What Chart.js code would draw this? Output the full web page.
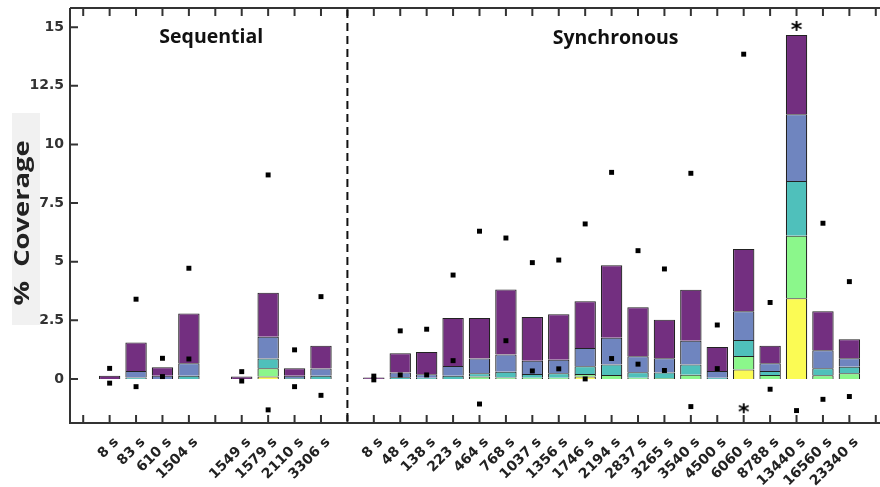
<!DOCTYPE html>
<html>
<head>
<meta charset="utf-8">
<script src="https://cdn.jsdelivr.net/npm/chart.js@4.4.1/dist/chart.umd.min.js"></script>
<style>
  html, body { margin: 0; padding: 0; background: #fff; overflow: hidden; }
  #wrap { width: 893px; height: 487px; }
</style>
</head>
<body>
<div id="wrap"><canvas id="cov" width="893" height="487"></canvas></div>
<script>
'use strict';

// slots: gap | sequential A | gap | sequential B | gap (divider) | synchronous | gap
const tickLabels = ['', '8 s', '83 s', '610 s', '1504 s', '', '1549 s', '1579 s', '2110 s', '3306 s', '',
  '8 s', '48 s', '138 s', '223 s', '464 s', '768 s', '1037 s', '1356 s', '1746 s', '2194 s',
  '2837 s', '3265 s', '3540 s', '4500 s', '6060 s', '8788 s', '13440 s', '16560 s', '23340 s', ''];

// stacked segments, bottom to top
const yellowVals = [null, 0, 0, 0, 0, null, 0, 0.10, 0, 0, null,
  0, 0, 0, 0, 0, 0, 0, 0, 0.10, 0, 0, 0, 0, 0, 0.40, 0, 3.44, 0, 0, null];
const greenVals = [null, 0, 0, 0, 0, null, 0, 0.36, 0, 0, null,
  0, 0, 0, 0, 0.10, 0.06, 0.05, 0.05, 0.11, 0.17, 0.05, 0.04, 0.18, 0, 0.58, 0.17, 2.67, 0.16, 0.24, null];
const tealVals = [null, 0, 0.06, 0, 0.14, null, 0, 0.41, 0.04, 0.14, null,
  0, 0.07, 0.05, 0.14, 0.14, 0.25, 0.16, 0.19, 0.33, 0.44, 0.23, 0.23, 0.43, 0.05, 0.68, 0.17, 2.33, 0.29, 0.28, null];
const blueVals = [null, 0, 0.28, 0.14, 0.53, null, 0, 0.93, 0.10, 0.30, null,
  0, 0.20, 0.15, 0.41, 0.63, 0.73, 0.56, 0.58, 0.78, 1.15, 0.69, 0.61, 1.02, 0.29, 1.23, 0.33, 2.85, 0.77, 0.36, null];
const purpleVals = [null, 0.14, 1.21, 0.36, 2.12, null, 0.10, 1.87, 0.32, 0.97, null,
  0.06, 0.82, 0.95, 2.05, 1.73, 2.77, 1.87, 1.94, 1.99, 3.09, 2.09, 1.64, 2.17, 1.02, 2.65, 0.74, 3.38, 1.67, 0.81, null];

// square markers above / below, and the two asterisks
const highMarks = [null, 0.45, 3.40, 0.88, 4.72, null, 0.31, 8.70, 1.24, 3.51, null,
  0.12, 2.05, 2.12, 4.43, 6.30, 6.01, 4.96, 5.07, 6.61, 8.81, 5.47, 4.69, 8.77, 2.30, 13.85, 3.26, null, 6.64, 4.15, null];
const lowMarks = [null, -0.18, -0.33, 0.10, 0.85, null, -0.09, -1.32, -0.33, -0.70, null,
  -0.04, 0.17, 0.17, 0.78, -1.07, 1.63, 0.34, 0.43, 0.00, 0.87, 0.63, 0.36, -1.18, 0.44, null, -0.44, -1.35, -0.87, -0.75, null];
const starMarks = [null, null, null, null, null, null, null, null, null, null, null,
  null, null, null, null, null, null, null, null, null, null, null, null, null, null, -1.21, null, 15.1, null, null, null];

const yTicks = [0, 2.5, 5, 7.5, 10, 12.5, 15];

const axisColor = '#333';
const tickFont = { family: 'DejaVu Sans', size: 14, weight: 'bold' };

// asterisk glyph as point image
function starImage() {
  const c = document.createElement('canvas');
  c.width = 16; c.height = 16;
  const g = c.getContext('2d');
  g.font = 'bold 22px "DejaVu Sans"';
  g.textAlign = 'center';
  g.textBaseline = 'alphabetic';
  const m = g.measureText('*');
  const h = m.actualBoundingBoxAscent - m.actualBoundingBoxDescent;
  g.fillStyle = '#000';
  g.fillText('*', 8, 8 + h / 2 + 1);
  return c;
}

const framePlugin = {
  id: 'frame',
  afterDatasetsDraw(chart) {
    const { ctx, chartArea: a, scales: { x, y } } = chart;
    ctx.save();
    ctx.strokeStyle = axisColor;
    ctx.lineWidth = 2;
    ctx.beginPath();
    ctx.moveTo(a.left, a.top); ctx.lineTo(a.right, a.top);
    ctx.moveTo(a.left, a.top); ctx.lineTo(a.left, a.bottom); ctx.lineTo(a.right, a.bottom);
    tickLabels.forEach((_, i) => {
      const px = x.getPixelForValue(i);
      ctx.moveTo(px, a.bottom); ctx.lineTo(px, a.bottom - 8);
      ctx.moveTo(px, a.top); ctx.lineTo(px, a.top + 8);
    });
    yTicks.forEach(v => {
      const py = y.getPixelForValue(v);
      ctx.moveTo(a.left, py); ctx.lineTo(a.left + 8, py);
    });
    ctx.stroke();

    // divider between sequential and synchronous
    const dx = x.getPixelForValue(10);
    ctx.strokeStyle = '#111';
    ctx.setLineDash([8, 5]);
    ctx.beginPath();
    ctx.moveTo(dx, a.top + 2); ctx.lineTo(dx, a.bottom);
    ctx.stroke();
    ctx.setLineDash([]);

    // group titles
    ctx.fillStyle = '#111';
    ctx.font = 'bold 19.5px "Open Sans"';
    ctx.textAlign = 'center';
    ctx.textBaseline = 'middle';
    const seqX = (x.getPixelForValue(1) + x.getPixelForValue(9)) / 2 - 4;
    const syncX = (x.getPixelForValue(11) + x.getPixelForValue(29)) / 2 + 4;
    ctx.fillText('Sequential', seqX, a.top + 29);
    ctx.fillText('Synchronous', syncX, a.top + 30);
    ctx.restore();
  },
  afterDraw(chart) {
    const { ctx } = chart;
    ctx.save();
    ctx.fillStyle = '#f1f1f1';
    ctx.fillRect(12, 113, 28, 212);
    ctx.translate(29, 223);
    ctx.rotate(-Math.PI / 2);
    ctx.scale(1.3, 1);
    ctx.fillStyle = '#222';
    ctx.font = 'bold 21px "Open Sans"';
    ctx.textAlign = 'center';
    ctx.textBaseline = 'alphabetic';
    ctx.fillText('%  Coverage', 0, 0);
    ctx.restore();
  }
};

function barSet(label, data, color) {
  return {
    type: 'bar', label, data,
    backgroundColor: color,
    borderColor: '#222',
    borderWidth: { top: 1, left: 1.2, right: 1.2, bottom: 0 },
    borderSkipped: false,
    stack: 'cov',
    order: 1,
    categoryPercentage: 1,
    barPercentage: 0.81
  };
}

function markSet(label, data, style, stack) {
  return {
    type: 'line', label, data,
    showLine: false,
    pointStyle: style,
    pointRadius: 3.5,
    pointBackgroundColor: '#000',
    pointBorderWidth: 0,
    stack,
    order: 0
  };
}

new Chart(document.getElementById('cov'), {
  type: 'bar',
  data: {
    labels: tickLabels,
    datasets: [
      markSet('high', highMarks, 'rect', 'hi'),
      markSet('low', lowMarks, 'rect', 'lo'),
      markSet('star', starMarks, starImage(), 'st'),
      barSet('yellow', yellowVals, '#fbfb54'),
      barSet('green', greenVals, '#8bf78b'),
      barSet('teal', tealVals, '#4fc0bb'),
      barSet('blue', blueVals, '#6f85bf'),
      barSet('purple', purpleVals, '#732f80')
    ]
  },
  options: {
    responsive: false,
    animation: false,
    layout: { padding: { top: 8, left: 0, right: 0, bottom: 0 } },
    plugins: { legend: { display: false }, tooltip: { enabled: false } },
    scales: {
      x: {
        type: 'category',
        stacked: true,
        offset: true,
        grid: { display: false, drawTicks: false },
        border: { display: false },
        ticks: {
          autoSkip: false, maxRotation: 45, minRotation: 45,
          font: { ...tickFont, size: 14 }, color: '#222', padding: 11, labelOffset: 7
        },
        afterFit(s) { s.height = 64; s.paddingLeft = 0; s.paddingRight = 0; }
      },
      y: {
        type: 'linear',
        stacked: true,
        min: -1.88,
        max: 15.82,
        grid: { display: false, drawTicks: false },
        border: { display: false },
        ticks: { font: tickFont, color: '#333', padding: 6, callback: v => String(v) },
        afterBuildTicks(s) { s.ticks = yTicks.map(v => ({ value: v })); },
        afterFit(s) { s.width = 70; s.paddingTop = 0; s.paddingBottom = 0; }
      }
    }
  },
  plugins: [framePlugin]
});
</script>
</body>
</html>
